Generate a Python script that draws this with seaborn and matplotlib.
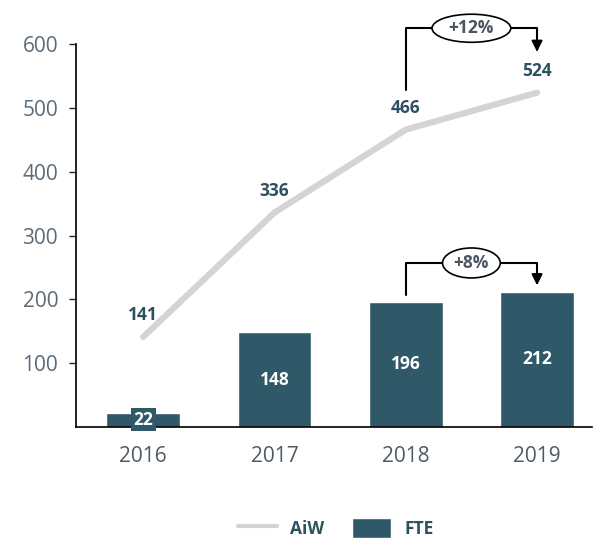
import numpy as np
import pandas as pd
import matplotlib
matplotlib.use("Agg")
import matplotlib.pyplot as plt
import seaborn as sns
from matplotlib.patches import Ellipse
from matplotlib.lines import Line2D
from matplotlib.patches import Patch

years = ["2016", "2017", "2018", "2019"]
aiw = [141, 336, 466, 524]
fte = [22, 148, 196, 212]

BAR_COLOR = "#2f5868"
LINE_COLOR = "#d4d4d4"
LABEL_COLOR = "#2f5060"
TICK_COLOR = "#5b6b78"

sns.set_style("white")
plt.rcParams["font.family"] = ["Open Sans", "DejaVu Sans"]

df = pd.DataFrame({"year": years, "AiW": aiw, "FTE": fte})
df["pos"] = np.arange(len(df))

fig = plt.figure(figsize=(6.0, 5.39), dpi=100)
ax = fig.add_axes([0.127, 0.208, 0.86, 0.71])

# bars (FTE)
sns.barplot(data=df, x="year", y="FTE", color=BAR_COLOR, width=0.56,
            saturation=1, ax=ax, zorder=2)
# line (AiW)
sns.lineplot(data=df, x="pos", y="AiW", color=LINE_COLOR, linewidth=4.5,
             ax=ax, zorder=1)

ax.set_xlim(-0.51, 3.42)
ax.set_ylim(0, 600)
ax.set_yticks([100, 200, 300, 400, 500, 600])
ax.set_xticks(range(len(years)))
ax.set_xticklabels(years)
ax.set_xlabel("")
ax.set_ylabel("")

for s in ["top", "right"]:
    ax.spines[s].set_visible(False)
for s in ["left", "bottom"]:
    ax.spines[s].set_color("black")
    ax.spines[s].set_linewidth(1.2)
ax.tick_params(axis="y", length=5, width=1, direction="out", left=True,
               labelsize=15, labelcolor=TICK_COLOR, pad=8)
ax.tick_params(axis="x", length=0, labelsize=15, labelcolor="#505a62", pad=14)

# value labels
for i, (a, f) in enumerate(zip(aiw, fte)):
    ax.text(i, a + 34, str(a), ha="center", va="center", fontsize=12.5,
            fontweight="bold", color=LABEL_COLOR)
    if f > 60:
        ax.text(i, f / 2, str(f), ha="center", va="center",
                fontsize=12.5, fontweight="bold", color="white", zorder=3)
    else:
        # small bar: label sits on its own dark box
        ax.text(i, 11, str(f), ha="center", va="center",
                fontsize=12.5, fontweight="bold", color="white", zorder=3,
                bbox=dict(boxstyle="square,pad=0.15", facecolor=BAR_COLOR,
                          edgecolor="none"))

# growth brackets
def bracket(y0, ytop, yend, label, ew, eh):
    ax.plot([2, 2, 2.5 - ew / 2], [y0, ytop, ytop], color="black", lw=1.5,
            clip_on=False)
    ax.annotate("", xy=(3, yend), xytext=(2.5 + ew / 2, ytop),
                arrowprops=dict(arrowstyle="-|>", color="black", lw=1.5,
                                connectionstyle="angle,angleA=0,angleB=90,rad=0",
                                shrinkA=0, shrinkB=0, mutation_scale=16),
                annotation_clip=False)
    ax.add_patch(Ellipse((2.5, ytop), ew, eh, facecolor="white",
                         edgecolor="black", lw=1.2, clip_on=False, zorder=4))
    ax.text(2.5, ytop, label, ha="center", va="center", fontsize=12.5,
            fontweight="bold", color="#4a5560", zorder=5)

bracket(528, 625, 588, "+12%", 0.6, 44)
bracket(207, 257, 222, "+8%", 0.44, 47)

handles = [Line2D([0], [0], color=LINE_COLOR, lw=3),
           Patch(facecolor=BAR_COLOR)]
leg = fig.legend(handles, ["AiW", "FTE"], loc="center", ncol=2,
                 bbox_to_anchor=(0.56, 0.02), frameon=False,
                 prop={"weight": "bold", "size": 12.5}, handlelength=2.2,
                 handleheight=1.4, columnspacing=1.6)
for t in leg.get_texts():
    t.set_color(LABEL_COLOR)

fig.savefig("out.png", dpi=100)
